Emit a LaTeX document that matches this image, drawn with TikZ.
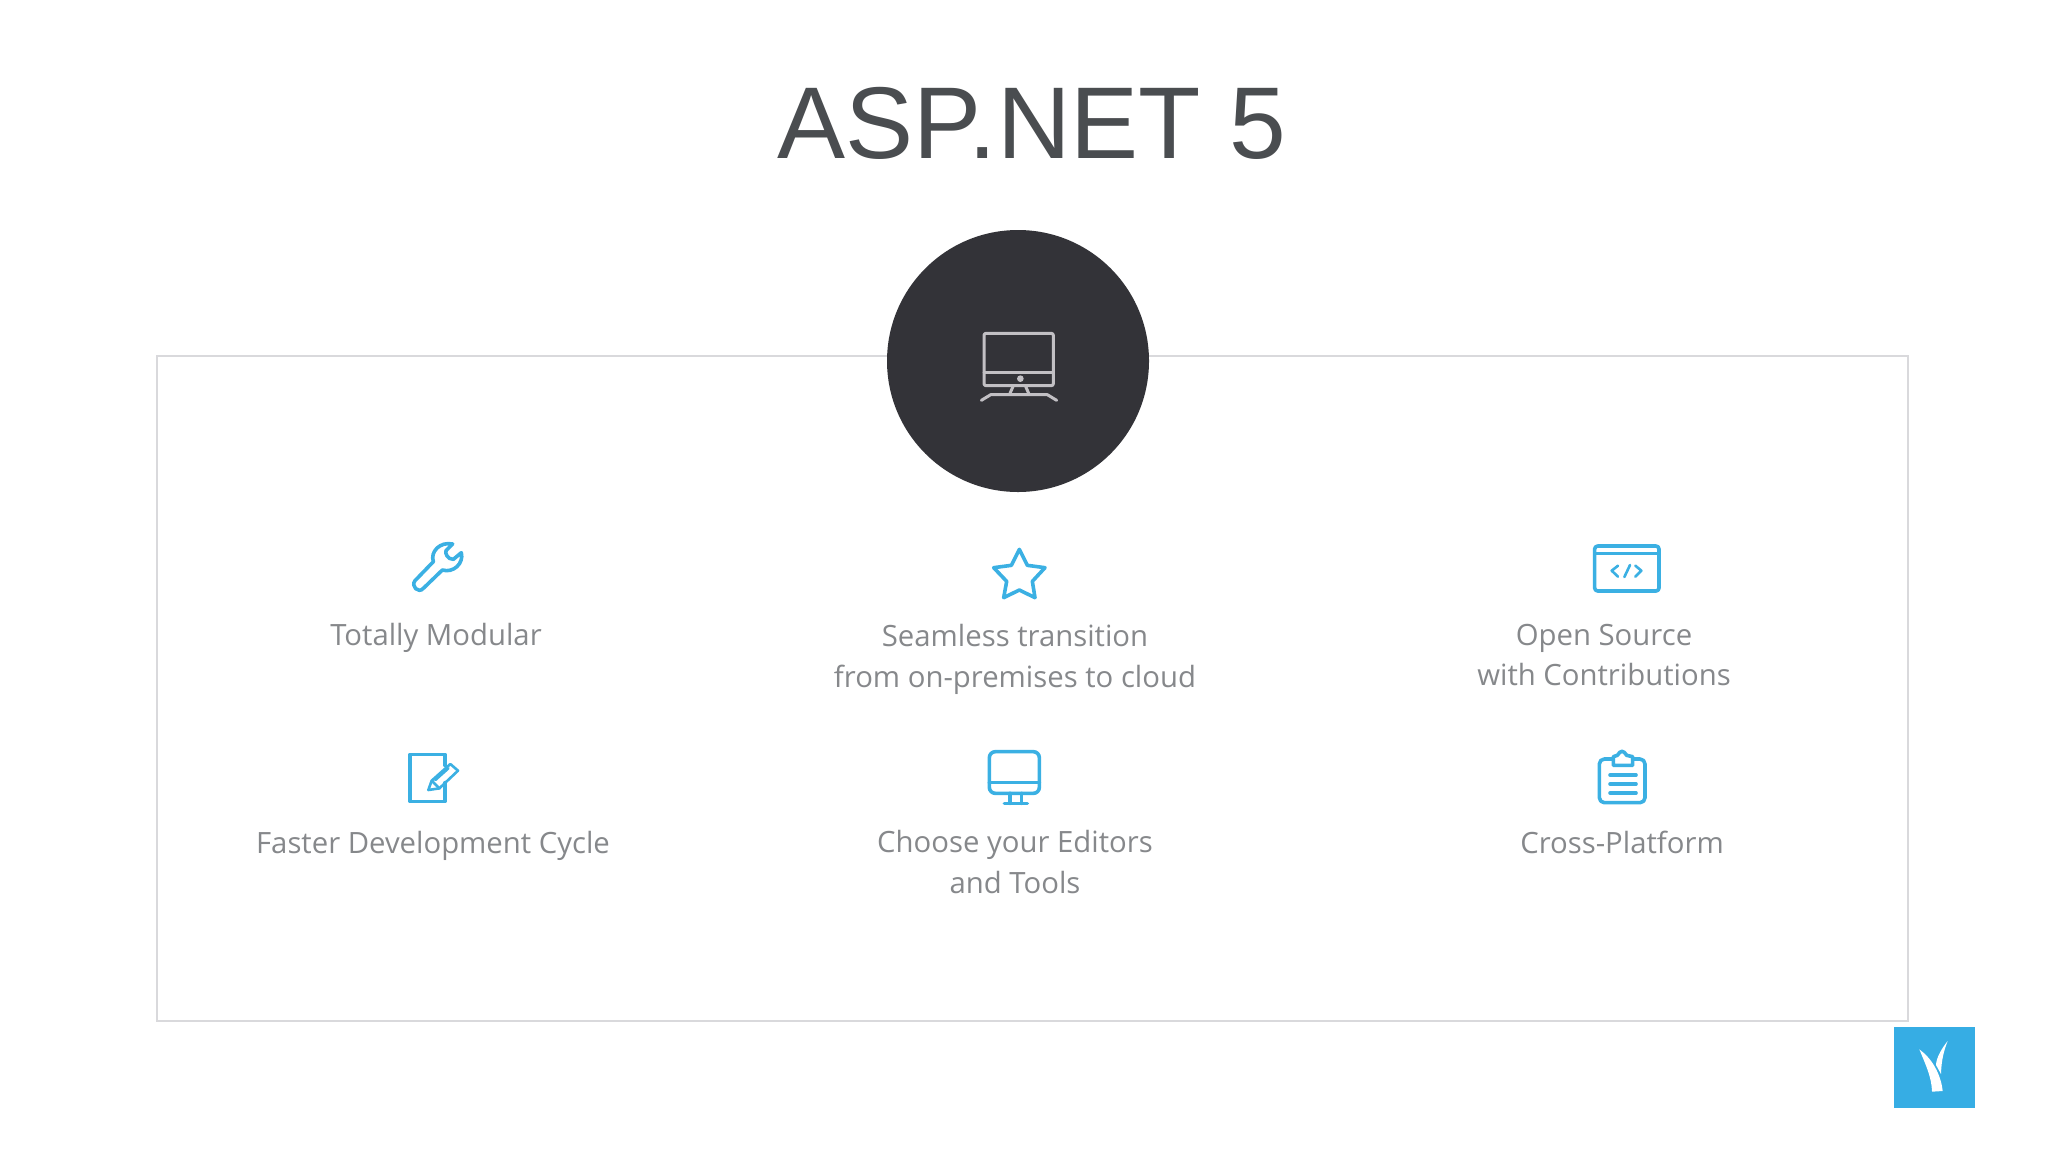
\documentclass[tikz,border=0pt]{standalone}
\usepackage{fontspec}
\setmainfont{Open Sans}
\newfontfamily\titlefont{Liberation Sans}
\definecolor{iconblue}{HTML}{3BB0E3}
\definecolor{logoblue}{HTML}{36ADE4}
\definecolor{labelgray}{HTML}{86888B}
\definecolor{titlegray}{HTML}{4A4D50}
\definecolor{framegray}{HTML}{D9D9DC}
\definecolor{diskdark}{HTML}{333338}
\definecolor{pcgray}{HTML}{C2C0C4}
\tikzset{
  label text/.style={font=\fontsize{14.65pt}{20.4pt}\selectfont,text=labelgray,align=center,inner sep=0pt},
  zoomed/.style 2 args={shift={(#1,#2)},x=0.16667pt,y=-0.16667pt},
  icon/.style={draw=iconblue,line width=1.8pt,line join=round,line cap=round},
  thin icon/.style={icon,line width=1.3pt},
  pc/.style={draw=pcgray,line width=1.5pt,line join=round,line cap=round}
}
\begin{document}
\begin{tikzpicture}[x=0.5pt,y=-0.5pt]
\useasboundingbox (0,0) rectangle (2048,1152);
\fill[white] (0,0) rectangle (2048,1152);
\node[font=\titlefont\fontsize{51pt}{60pt}\selectfont,text=titlegray,inner sep=0pt] (title) at (1032,123) {ASP.NET 5};
\draw[framegray,line width=1pt] (157,356) rectangle (1908,1021);
\node[circle,fill=diskdark,minimum size=131pt,inner sep=0pt] (disk) at (1018,361) {};
% desktop icon in the disk
\begin{scope}[zoomed={870}{220}]
  \draw[pc,rounded corners=1pt] (342,340) rectangle (550,497);
  \draw[pc] (342,458) -- (550,458);
  \fill[pcgray] (451,476) circle (10);
  \draw[pc] (430,497) -- (420,520) (466,497) -- (476,520);
  \draw[pc] (334,541) -- (362,524) -- (532,524) -- (560,541);
\end{scope}
% wrench
\begin{scope}[zoomed={390}{520}]
  \draw[icon] (188,72) .. controls (150,64) and (120,95) .. (130,125) -- (75,182)
    .. controls (62,198) and (85,222) .. (100,205) -- (157,150)
    .. controls (190,160) and (222,130) .. (214,98) -- (190,118)
    .. controls (172,118) and (165,100) .. (168,92) -- cycle;
\end{scope}
% star
\begin{scope}[zoomed={970}{530}]
  \draw[icon] (148,58) -- (172,106) -- (225,113) -- (187,154) -- (195,203) -- (148,180) -- (101,203) -- (110,154) -- (71,113) -- (124,106) -- cycle;
\end{scope}
% code window
\begin{scope}[zoomed={1580}{530}]
  \draw[icon,rounded corners=1.5pt] (44,48) rectangle (237,183);
  \draw[thin icon] (44,70) -- (237,70);
  \draw[thin icon] (114,107) -- (95,122) -- (114,140) (133,141) -- (150,105) (166,107) -- (184,122) -- (166,140);
\end{scope}
% document with pencil
\begin{scope}[zoomed={390}{740}]
  \draw[icon] (165,76) -- (165,43) -- (60,43) -- (60,184) -- (165,184) -- (165,128);
  \draw[thin icon] (115,150) -- (125,122) -- (181,72) -- (204,92) -- (148,145) -- cycle;
  \draw[thin icon] (125,122) -- (148,145) (136,120) -- (175,85);
\end{scope}
% monitor
\begin{scope}[zoomed={970}{740}]
  \draw[icon,rounded corners=3pt] (58,35) rectangle (208,160);
  \draw[icon] (58,128) -- (208,128);
  \draw[icon] (120,160) -- (120,190) (155,160) -- (155,190) (103,190) -- (172,190);
\end{scope}
% clipboard
\begin{scope}[zoomed={1580}{740}]
  \draw[icon,rounded corners=2.5pt] (100,57) -- (58,57) -- (58,188) -- (195,188) -- (195,57) -- (158,57);
  \draw[icon] (100,76) -- (158,76) -- (158,50) -- (140,46) .. controls (130,30) and (122,30) .. (112,46) -- (100,50) -- cycle;
  \draw[icon] (90,105) -- (168,105) (90,132) -- (168,132) (90,159) -- (168,159);
\end{scope}
% labels
\node[label text] (l1) at (436,638) {Totally Modular};
\node[label text] (l2) at (1015,659) {Seamless transition\\from on-premises to cloud};
\node[label text] (l3) at (1604,655) {Open Source\\with Contributions};
\node[label text] (l4) at (433,846) {Faster Development Cycle};
\node[label text] (l5) at (1015,862) {Choose your Editors\\and Tools};
\node[label text] (l6) at (1622,842) {Cross-Platform};
% logo
\fill[logoblue] (1894,1027) rectangle (1975,1108);
\begin{scope}[zoomed={1880}{1010}]
  \fill[white] (118,118) .. controls (155,145) and (182,190) .. (188,243) -- (156,245) .. controls (155,200) and (135,160) .. (118,118) -- cycle;
  \fill[white] (203,93) .. controls (192,120) and (184,150) .. (183,192) -- (168,165) .. controls (168,145) and (185,115) .. (203,93) -- cycle;
\end{scope}
\end{tikzpicture}
\end{document}
